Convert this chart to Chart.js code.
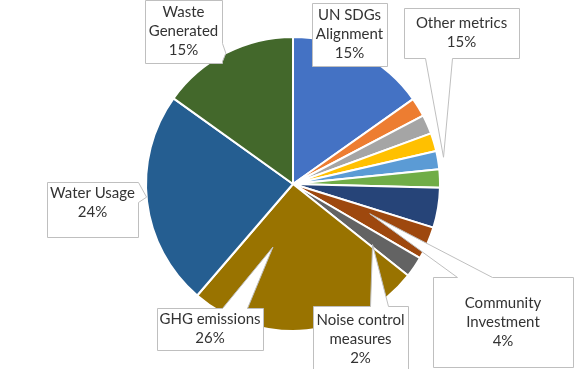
<!DOCTYPE html>
<html>
<head>
<meta charset="utf-8">
<script src="https://cdn.jsdelivr.net/npm/chart.js@4.4.1/dist/chart.umd.min.js"></script>
<style>
  html, body { margin: 0; padding: 0; background: #fff; }
  #wrap { width: 586px; height: 369px; }
</style>
</head>
<body>
<div id="wrap"><canvas id="pie" width="586" height="369"></canvas></div>
<script>
// slices clockwise from 12 o'clock
const categories = ["UN SDGs Alignment", "Other A", "Other B", "Other C", "Other metrics", "Other D",
  "Other E", "Community Investment", "Noise control measures", "GHG emissions", "Water Usage", "Waste Generated"];
const shares = [15.2, 2.1, 2.1, 2.0, 2.0, 2.0, 4.4, 3.6, 2.3, 25.6, 23.6, 15.1];
const sliceColors = ["#4472C4", "#ED7D31", "#A5A5A5", "#FFC000", "#5B9BD5", "#70AD47",
  "#264478", "#9E480E", "#636363", "#997300", "#255E91", "#43682B"];
// text shown in the data label callouts (as printed on the chart)
const labelLines = [["UN SDGs", "Alignment"], null, null, null, ["Other metrics"], null,
  null, ["Community", "Investment"], ["Noise control", "measures"], ["GHG emissions"], ["Water Usage"], ["Waste", "Generated"]];
const labelPct = ["15%", null, null, null, "15%", null, null, "4%", "2%", "26%", "24%", "15%"];

// callout box placement; tip = point on the slice (t along angle, r fraction of radius)
const callouts = {
  0:  { x: 312, y: 3,   w: 75,  h: 63, side: "none" },
  4:  { x: 404, y: 8,   w: 115, h: 50, side: "bottom", p1: 21, p2: 48, t: 0.4, r: 1.04 },
  7:  { x: 433, y: 277, w: 140, h: 90, side: "top", p1: 24, p2: 59, t: 0.3, r: 0.56 },
  8:  { x: 313, y: 306, w: 95,  h: 66, side: "top", p1: 57, p2: 75, t: 0.85, r: 0.68 },
  9:  { x: 157, y: 308, w: 106, h: 42, side: "top", p1: 65, p2: 90, t: 0.75, r: 0.45 },
  10: { x: 47,  y: 182, w: 91,  h: 55, side: "right", p1: 0, p2: 20, t: 0.52, r: 1.0, ty: 203 },
  11: { x: 145, y: 0,   w: 77,  h: 63, side: "right", p1: 43, p2: 61, t: 0.5, r: 1.0 }
};

const calloutPlugin = {
  id: "callouts",
  afterDatasetsDraw(chart) {
    const ctx = chart.ctx;
    const meta = chart.getDatasetMeta(0);
    ctx.save();
    Object.keys(callouts).forEach(k => {
      const i = +k;
      const b = callouts[k];
      const arc = meta.data[i];
      const p = arc.getProps(["x", "y", "startAngle", "endAngle", "outerRadius"], true);
      let tip = null;
      if (b.side !== "none") {
        const a = p.startAngle + b.t * (p.endAngle - p.startAngle);
        tip = [p.x + Math.cos(a) * p.outerRadius * b.r, p.y + Math.sin(a) * p.outerRadius * b.r];
      }
      const x = b.x + 0.5, y = b.y + 0.5, w = b.w, h = b.h;
      ctx.beginPath();
      ctx.moveTo(x, y);
      if (b.side === "top") {
        ctx.lineTo(x + b.p1, y); ctx.lineTo(tip[0], tip[1]); ctx.lineTo(x + b.p2, y);
      }
      ctx.lineTo(x + w, y);
      if (b.side === "right") {
        ctx.lineTo(x + w, y + b.p1); ctx.lineTo(tip[0], tip[1]); ctx.lineTo(x + w, y + b.p2);
      }
      ctx.lineTo(x + w, y + h);
      if (b.side === "bottom") {
        ctx.lineTo(x + b.p2, y + h); ctx.lineTo(tip[0], tip[1]); ctx.lineTo(x + b.p1, y + h);
      }
      ctx.lineTo(x, y + h);
      ctx.closePath();
      ctx.fillStyle = "#ffffff";
      ctx.fill();
      ctx.strokeStyle = "#BFBFBF";
      ctx.lineWidth = 1;
      ctx.stroke();

      const lines = labelLines[i].concat([labelPct[i]]);
      const lh = 19;
      const cy = b.ty !== undefined ? b.ty : b.y + b.h / 2;
      const cx = b.x + b.w / 2;
      ctx.fillStyle = "#333333";
      ctx.font = "15px Lato";
      ctx.textAlign = "center";
      ctx.textBaseline = "middle";
      lines.forEach((s, j) => {
        ctx.fillText(s, cx, cy + (j - (lines.length - 1) / 2) * lh);
      });
    });
    ctx.restore();
  }
};

new Chart(document.getElementById("pie"), {
  type: "pie",
  data: {
    labels: categories,
    datasets: [{
      data: shares,
      backgroundColor: sliceColors,
      borderColor: "#ffffff",
      borderWidth: 2
    }]
  },
  options: {
    responsive: false,
    animation: false,
    radius: 147,
    layout: { padding: { top: 0, bottom: 1, left: 0, right: 0 } },
    plugins: {
      legend: { display: false },
      tooltip: { enabled: false }
    }
  },
  plugins: [calloutPlugin]
});
</script>
</body>
</html>
